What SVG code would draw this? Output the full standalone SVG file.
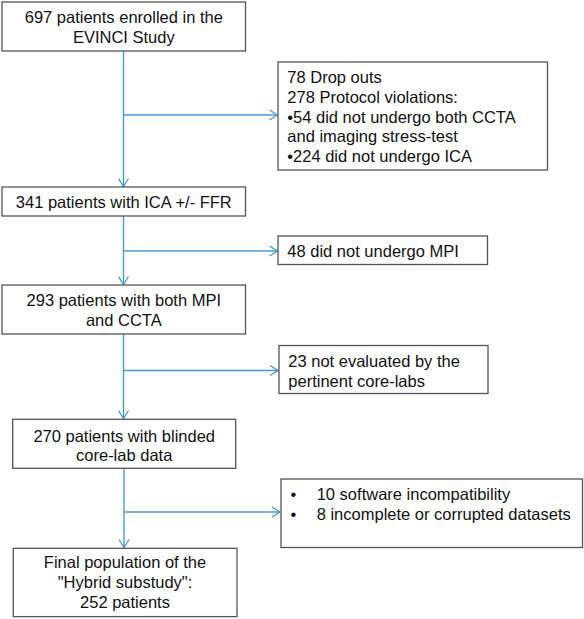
<svg xmlns="http://www.w3.org/2000/svg" width="584" height="619" viewBox="0 0 584 619">
<defs>
<style>
.box{fill:#fff;stroke:#555;stroke-width:1.3}
.t{font-family:"Liberation Sans",Arial,sans-serif;font-size:16.5px;fill:#111}
.c{text-anchor:middle}
.ln{fill:none;stroke:#4a9ad0;stroke-width:1.4}
</style>
<marker id="ah" viewBox="0 0 10 12" refX="9" refY="6" markerWidth="10" markerHeight="12" markerUnits="userSpaceOnUse" orient="auto">
<path d="M1,1 L9,6 L1,11" fill="none" stroke="#4a9ad0" stroke-width="1.3"/>
</marker>
</defs>
<rect width="584" height="619" fill="#fff"/>
<g id="connectors">
<line class="ln" x1="123.5" y1="51" x2="123.5" y2="186.5" marker-end="url(#ah)"/>
<line class="ln" x1="123.5" y1="115" x2="277.5" y2="115" marker-end="url(#ah)"/>
<line class="ln" x1="123.5" y1="216" x2="123.5" y2="284.5" marker-end="url(#ah)"/>
<line class="ln" x1="123.5" y1="251" x2="277.5" y2="251" marker-end="url(#ah)"/>
<line class="ln" x1="123.5" y1="334" x2="123.5" y2="418.5" marker-end="url(#ah)"/>
<line class="ln" x1="123.5" y1="370.5" x2="278" y2="370.5" marker-end="url(#ah)"/>
<line class="ln" x1="124" y1="468" x2="124" y2="547.5" marker-end="url(#ah)"/>
<line class="ln" x1="124" y1="512" x2="280" y2="512" marker-end="url(#ah)"/>
</g>
<g id="n1">
<rect class="box" x="2" y="2" width="243.5" height="49"/>
<text class="t c" x="123.8" y="23.3">697 patients enrolled in the</text>
<text class="t c" x="123.8" y="42.7">EVINCI Study</text>
</g>
<g id="n2">
<rect class="box" x="278" y="62" width="269.5" height="108"/>
<text class="t" x="287.3" y="82.7">78 Drop outs</text>
<text class="t" x="287.3" y="102.7">278 Protocol violations:</text>
<text class="t" x="287.3" y="122.7">•54 did not undergo both CCTA</text>
<text class="t" x="287.3" y="142.3">and imaging stress-test</text>
<text class="t" x="287.3" y="161.7">•224 did not undergo ICA</text>
</g>
<g id="n3">
<rect class="box" x="2" y="187" width="243.5" height="29"/>
<text class="t c" x="123.8" y="208">341 patients with ICA +/- FFR</text>
</g>
<g id="n4">
<rect class="box" x="278" y="236" width="209.5" height="28.5"/>
<text class="t" x="287.3" y="256.5">48 did not undergo MPI</text>
</g>
<g id="n5">
<rect class="box" x="2" y="285" width="243.5" height="49"/>
<text class="t c" x="123.8" y="306">293 patients with both MPI</text>
<text class="t c" x="123.8" y="326">and CCTA</text>
</g>
<g id="n6">
<rect class="box" x="279" y="345.5" width="209" height="48"/>
<text class="t" x="288.3" y="366.5">23 not evaluated by the</text>
<text class="t" x="288.3" y="386.5">pertinent core-labs</text>
</g>
<g id="n7">
<rect class="box" x="12.7" y="419.3" width="223" height="49"/>
<text class="t c" x="124.2" y="441.5">270 patients with blinded</text>
<text class="t c" x="124.2" y="460.5">core-lab data</text>
</g>
<g id="n8">
<rect class="box" x="281" y="479" width="301.5" height="68.5"/>
<text class="t" x="290.5" y="500">•</text>
<text class="t" x="316.7" y="500">10 software incompatibility</text>
<text class="t" x="290.5" y="520">•</text>
<text class="t" x="316.7" y="520">8 incomplete or corrupted datasets</text>
</g>
<g id="n9">
<rect class="box" x="13.3" y="548.3" width="223.7" height="68.3"/>
<text class="t c" x="125" y="568.3">Final population of the</text>
<text class="t c" x="125" y="588.3">"Hybrid substudy":</text>
<text class="t c" x="125" y="608.3">252 patients</text>
</g>
</svg>
